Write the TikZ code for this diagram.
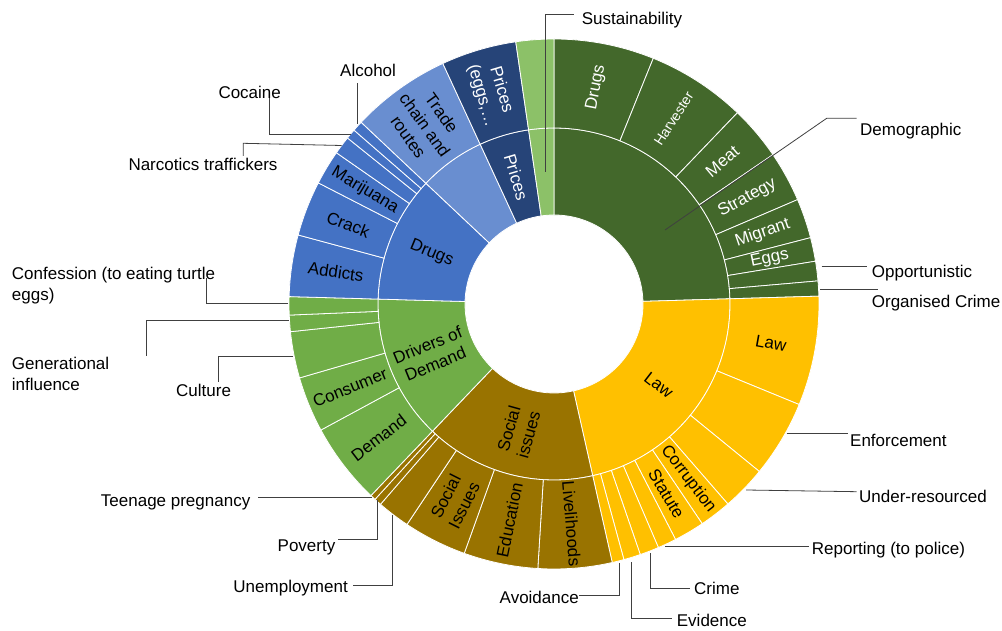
\documentclass[tikz,border=0pt]{standalone}
\usepackage{fontspec}
\setmainfont{Liberation Sans}
\definecolor{demog}{HTML}{43682B}
\definecolor{lawc}{HTML}{FFC000}
\definecolor{socc}{HTML}{997300}
\definecolor{drvc}{HTML}{70AD47}
\definecolor{drgc}{HTML}{4472C4}
\definecolor{trdc}{HTML}{698ED0}
\definecolor{prcc}{HTML}{264478}
\definecolor{susc}{HTML}{8CC168}
\definecolor{leadc}{HTML}{404040}
\newcommand{\sunseg}[5]{\fill[#5,draw=white,line width=0.8pt] (#1:#3) arc[start angle=#1,end angle=#2,radius=#3] -- (#2:#4) arc[start angle=#2,end angle=#1,radius=#4] -- cycle;}
\tikzset{
  lbl/.style={font=\fontsize{17}{20.5}\selectfont, align=center, inner sep=0pt},
  olbl/.style={font=\fontsize{17}{20.5}\selectfont, inner sep=0pt, anchor=base west},
  olble/.style={font=\fontsize{17}{20.5}\selectfont, inner sep=0pt, anchor=base east},
  lead/.style={draw=leadc, line width=0.8pt}
}
\begin{document}
\begin{tikzpicture}[x=1pt,y=1pt]
\fill[white] (0,0) rectangle (1002,630);
\useasboundingbox (0,0) rectangle (1002,630);
\begin{scope}[shift={(554,326)}]
% inner ring
\sunseg{90}{1.7}{89}{176}{demog}
\sunseg{1.7}{-77.3}{89}{176}{lawc}
\sunseg{-77.3}{-133.7}{89}{176}{socc}
\sunseg{-133.7}{-181.6}{89}{176}{drvc}
\sunseg{-181.6}{-223.3}{89}{176}{drgc}
\sunseg{-223.3}{-245.2}{89}{176}{trdc}
\sunseg{-245.2}{-261.7}{89}{176}{prcc}
\sunseg{-261.7}{-270}{89}{176}{susc}
% outer ring
\foreach \a/\b in {90/68,68/46.2,46.2/34.3,34.3/23.2,23.2/14.5,14.5/9.3,9.3/5,5/1.7}{\sunseg{\a}{\b}{176}{265}{demog}}
\foreach \a/\b in {1.7/-22.3,-22.3/-39.2,-39.2/-49,-49/-56,-56/-62.7,-62.7/-66.8,-66.8/-71,-71/-74.7,-74.7/-77.3}{\sunseg{\a}{\b}{176}{265}{lawc}}
\foreach \a/\b in {-77.3/-93.5,-93.5/-109.8,-109.8/-123.7,-123.7/-130.9,-130.9/-132.5,-132.5/-133.7}{\sunseg{\a}{\b}{176}{265}{socc}}
\foreach \a/\b in {-133.7/-151.6,-151.6/-163.8,-163.8/-174,-174/-177.6,-177.6/-181.6}{\sunseg{\a}{\b}{176}{265}{drvc}}
\foreach \a/\b in {-181.6/-195.1,-195.1/-207.2,-207.2/-214.8,-214.8/-218.8,-218.8/-221,-221/-223.3}{\sunseg{\a}{\b}{176}{265}{drgc}}
\sunseg{-223.3}{-245.2}{176}{265}{trdc}
\sunseg{-245.2}{-261.7}{176}{265}{prcc}
\sunseg{-261.7}{-270}{176}{265}{susc}
% inner labels
\node[lbl, rotate=-37.8] (iLaw) at (-37.8:132.5) {Law};
\node[lbl, rotate=74.5] (iSoc) at (-105.5:132.5) {Social\\issues};
\node[lbl, rotate=22.35] (iDrv) at (-157.65:132.5) {Drivers of\\Demand};
\node[lbl, rotate=-22.45] (iDrg) at (-202.45:132.5) {Drugs};
\node[lbl, white, rotate=-73.45] (iPrc) at (-253.45:132.5) {Prices};
% outer labels
\node[lbl, white, rotate=79] (oDrugs) at (79:220.5) {Drugs};
\node[lbl, white, rotate=57.1, font=\fontsize{14}{17}\selectfont] (oHarv) at (57.1:220.5) {Harvester};
\node[lbl, white, rotate=40.25] (oMeat) at (40.25:220.5) {Meat};
\node[lbl, white, rotate=28.75] (oStrat) at (28.75:220.5) {Strategy};
\node[lbl, white, rotate=18.85] (oMig) at (18.85:220.5) {Migrant};
\node[lbl, white, rotate=11.9] (oEggs) at (11.9:220.5) {Eggs};
\node[lbl, rotate=-10.3] (oLaw) at (-10.3:220.5) {Law};
\node[lbl, rotate=-52.5] (oCorr) at (-52.5:220.5) {Corruption};
\node[lbl, rotate=-59.35] (oStat) at (-59.35:220.5) {Statute};
\node[lbl, rotate=-85.4] (oLive) at (-85.4:220.5) {Livelihoods};
\node[lbl, rotate=78.35] (oEdu) at (-101.65:220.5) {Education};
\node[lbl, rotate=63.25] (oSocI) at (-116.75:220.5) {Social\\Issues};
\node[lbl, rotate=37.35] (oDem) at (-142.65:220.5) {Demand};
\node[lbl, rotate=22.3] (oCons) at (-157.7:220.5) {Consumer};
\node[lbl, rotate=-8.35] (oAdd) at (-188.35:220.5) {Addicts};
\node[lbl, rotate=-21.15] (oCrack) at (-201.15:220.5) {Crack};
\node[lbl, rotate=-31] (oMari) at (-211:220.5) {Marijuana};
\node[lbl, rotate=-54.25] (oTrade) at (-234.25:220.5) {Trade\\chain and\\routes};
\node[lbl, white, rotate=-73.45] (oPrc) at (-253.45:220.5) {Prices\\(eggs,…};
\end{scope}
% leader start points and ends
\coordinate (sSus) at (545.7,458.3); \coordinate (eSus) at (574,615.7);
\coordinate (sDemo) at (665,400); \coordinate (bDemo) at (826.7,511.7); \coordinate (eDemo) at (856.7,511.7);
\coordinate (sOpp) at (821.7,363.3); \coordinate (eOpp) at (866.7,363.3);
\coordinate (sOrg) at (820,340.7); \coordinate (eOrg) at (878.3,340.7);
\coordinate (sEnf) at (786.7,196.7); \coordinate (eEnf) at (848.3,196.7);
\coordinate (sUnd) at (746,140); \coordinate (eUnd) at (856.7,138.3);
\coordinate (sRep) at (665,83.3); \coordinate (eRep) at (809.3,83.3);
\coordinate (sCri) at (650.7,76.7); \coordinate (eCri) at (690,41.7);
\coordinate (sEvi) at (631.7,68); \coordinate (eEvi) at (671.7,11.7);
\coordinate (sAvo) at (619.3,67); \coordinate (eAvo) at (579.3,35);
\coordinate (sUne) at (392.7,115); \coordinate (eUne) at (352.7,44.3);
\coordinate (sPov) at (377.3,130); \coordinate (ePov) at (338.3,90.7);
\coordinate (sTee) at (371.7,132.7); \coordinate (eTee) at (258,132.7);
\coordinate (sCul) at (293.3,274); \coordinate (eCul) at (218.3,248.3);
\coordinate (sGen) at (288.7,310); \coordinate (eGen) at (146.7,274);
\coordinate (sCon) at (288,326.7); \coordinate (eCon) at (206,351.7);
\coordinate (sNar) at (341.7,484.5); \coordinate (bNar) at (243.3,486.7); \coordinate (eNar) at (243.3,474);
\coordinate (sCoc) at (350.6,495.7); \coordinate (eCoc) at (269,531.7);
\coordinate (sAlc) at (357.7,506); \coordinate (eAlc) at (357.7,546.7);
% outside labels
\node[olbl] (tSus) at (581.7,605.7) {Sustainability};
\node[olbl] (tDemo) at (860,494) {Demographic};
\node[olbl] (tOpp) at (871.7,352.3) {Opportunistic};
\node[olbl] (tOrg) at (871.7,322.3) {Organised Crime};
\node[olbl] (tEnf) at (850,183.3) {Enforcement};
\node[olbl] (tUnd) at (859,128) {Under-resourced};
\node[olbl] (tRep) at (811.7,75.7) {Reporting (to police)};
\node[olbl] (tCri) at (694,35.7) {Crime};
\node[olbl] (tEvi) at (676.7,4) {Evidence};
\node[olble] (tAvo) at (579,26.3) {Avoidance};
\node[olble] (tUne) at (348,37.3) {Unemployment};
\node[olble] (tPov) at (335.5,79) {Poverty};
\node[olble] (tTee) at (250.5,124) {Teenage pregnancy};
\node[olbl] (tCul) at (176,233.3) {Culture};
\node[lbl, anchor=west, align=left] (tGen) at (11.7,256) {Generational\\influence};
\node[lbl, anchor=west, align=left] (tCon) at (11.7,344.5) {Confession (to eating turtle\\eggs)};
\node[olbl] (tNar) at (128.3,459) {Narcotics traffickers};
\node[olbl] (tCoc) at (218.3,531.7) {Cocaine};
\node[olbl] (tAlc) at (340,553.3) {Alcohol};
% leaders
\draw[lead] (sSus) |- (eSus);
\draw[lead] (sDemo) -- (bDemo) -- (eDemo);
\draw[lead] (sOpp) -- (eOpp);
\draw[lead] (sOrg) -- (eOrg);
\draw[lead] (sEnf) -- (eEnf);
\draw[lead] (sUnd) -- (eUnd);
\draw[lead] (sRep) -- (eRep);
\draw[lead] (sCri) |- (eCri);
\draw[lead] (sEvi) |- (eEvi);
\draw[lead] (sAvo) |- (eAvo);
\draw[lead] (sUne) |- (eUne);
\draw[lead] (sPov) |- (ePov);
\draw[lead] (sTee) -- (eTee);
\draw[lead] (sCul) -| (eCul);
\draw[lead] (sGen) -| (eGen);
\draw[lead] (sCon) -| (eCon);
\draw[lead] (sNar) -- (bNar) -- (eNar);
\draw[lead] (sCoc) -| (eCoc);
\draw[lead] (sAlc) -- (eAlc);
\end{tikzpicture}
\end{document}
